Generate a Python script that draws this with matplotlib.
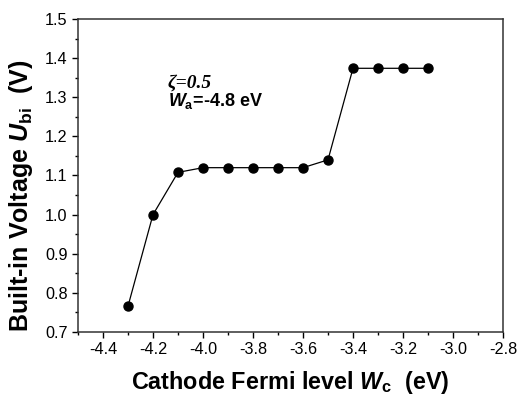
import numpy as np
import matplotlib
matplotlib.use("Agg")
import matplotlib.pyplot as plt
from matplotlib.ticker import MultipleLocator

plt.rcParams['font.family'] = ['Liberation Sans', 'DejaVu Sans']
plt.rcParams['mathtext.fontset'] = 'custom'
plt.rcParams['mathtext.rm'] = 'Liberation Sans:bold'
plt.rcParams['mathtext.it'] = 'Liberation Sans:bold:italic'
plt.rcParams['mathtext.bf'] = 'Liberation Sans:bold'

# cathode Fermi level (eV) and built-in voltage (V)
wc = [-4.3, -4.2, -4.1, -4.0, -3.9, -3.8, -3.7, -3.6, -3.5, -3.4, -3.3, -3.2, -3.1]
ubi = [0.766, 1.0, 1.108, 1.12, 1.12, 1.12, 1.12, 1.12, 1.14, 1.374, 1.374, 1.374, 1.374]
xticks = [-4.4, -4.2, -4.0, -3.8, -3.6, -3.4, -3.2, -3.0, -2.8]

fig = plt.figure(figsize=(5.18, 4.01), dpi=100)
ax = fig.add_axes([78/518, 1-332/401, 425/518, 313/401])

ax.plot(wc, ubi, color='black', lw=0.9, marker='o', ms=6.5)

ax.set_xlim(-4.5, -2.8)
ax.set_ylim(0.7, 1.5)
ax.set_xticks(xticks)
ax.set_xticklabels(['%.1f' % v for v in xticks])
ax.xaxis.set_minor_locator(MultipleLocator(0.1))
ax.yaxis.set_major_locator(MultipleLocator(0.1))
ax.yaxis.set_minor_locator(MultipleLocator(0.05))
ax.tick_params(which='major', length=4.5, width=1, labelsize=11.7, pad=3)
ax.tick_params(which='minor', length=2.5, width=1)
for s in ax.spines.values():
    s.set_linewidth(1.1)
    s.set_color('#333333')

ax.set_xlabel(r'Cathode Fermi level $\mathit{W}_{\mathrm{c}}$  (eV)', fontsize=16.8, fontweight='bold', labelpad=8)
ax.set_ylabel(r'Built-in Voltage $\mathit{U}_{\mathrm{bi}}$  (V)', fontsize=18, fontweight='bold')
ax.yaxis.set_label_coords(-0.1, 0.435)

ax.text(-4.14, 1.326, 'ζ=0.5', fontsize=14, fontweight='bold', fontstyle='italic',
        family=['Liberation Serif', 'DejaVu Serif'])
ax.text(-4.14, 1.277, r'$\mathit{W}_{\mathrm{a}}$=-4.8 eV', fontsize=13, fontweight='bold')

fig.savefig('out.png', dpi=100)
